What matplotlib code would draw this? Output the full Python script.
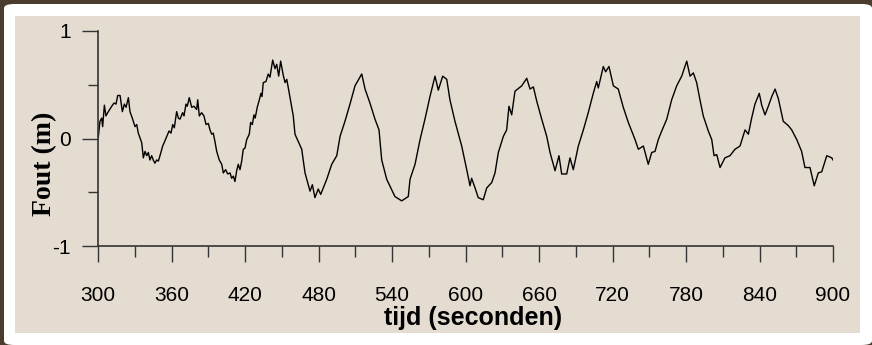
import matplotlib.pyplot as plt
from matplotlib.patches import Rectangle, FancyBboxPatch

# time (s) and error (m)
tijd = [300.2, 301.6, 303, 303.8, 305.2, 306.5, 307.9, 311.2, 313.1, 314.7,
        316.1, 318, 319.9, 321.5, 322.9, 324.8, 326.1, 328, 330.2, 331.6,
        332.9, 335.7, 337, 338.4, 339.8, 341.1, 342.4, 343.8, 345.1, 346.5,
        347.9, 349.3, 350.6, 352.8, 354.7, 358, 359.6, 361, 362.3, 364.2,
        365.6, 366.9, 369.1, 370.2, 371.8, 372.9, 374.5, 376.5, 378.4, 380.5,
        381.4, 382.7, 384.6, 386.5, 388.2, 390.1, 391.4, 392.8, 394.1, 395.5,
        396.9, 399, 401, 402.3, 404.2, 405.9, 407.8, 409.1, 410.5, 411.8,
        413.2, 414.5, 415.9, 417.3, 418.6, 420, 421.4, 423.5, 424.6, 426,
        427.3, 428.3, 430, 431.7, 433, 433.9, 434.9, 437.1, 439, 440.4,
        442.6, 444.5, 445.9, 447.5, 449.1, 451.2, 452.7, 454.1, 455.4, 456.3,
        459.4, 460.8, 466.3, 469,
        473.1, 475, 477.1, 479.8, 481.8, 486.7, 490.8, 494.9, 497.6, 501.6,
        505.7, 509.8, 515.3, 518, 522, 526.1, 529.4, 531.6, 535.7, 542.4,
        547.9, 553.3, 554.7, 558.8, 562.9, 566.9, 571, 575.1, 577.8, 581.4,
        584.7, 587.3, 591.4, 596.9, 601, 603.7, 605, 607.8, 610.4, 614.5,
        617.3, 621.4, 624.1, 626.8, 630.9, 633.6, 635.5, 637.7, 640.4, 645.9,
        650, 652.7, 655.4, 658.1, 662.2, 666.3, 669, 673.1, 676.3, 678.5,
        682.6, 685.3, 688, 692.1, 696.2, 700.2, 704.3, 707.1, 708.4, 712.5,
        714.4, 717.1, 720.7, 724.7, 728.8, 732.9, 738.4, 741.1, 745.2, 749.2,
        752, 754.7, 757.4, 760.2, 764.3, 768.3, 772.4, 776.5, 780.6, 783.3,
        786, 788.7, 791.4, 794.1, 798.2, 801, 802.9, 805.1, 807.8, 811.8,
        815.9, 820, 824.1, 828.2, 830.9, 833.6, 836.3, 839.8, 841.8, 844.5,
        847.2, 850, 852.7, 855.4, 859.4, 863.5, 866.3, 870.4, 874.4, 877.1,
        881.2, 884.7, 888, 890.8, 894.9, 899, 900]
fout = [0.01, 0.16, 0.19, 0.11, 0.31, 0.21, 0.24, 0.30, 0.33, 0.32,
        0.40, 0.40, 0.25, 0.32, 0.29, 0.38, 0.25, 0.19, 0.11, 0.13,
        0.05, -0.04, -0.18, -0.12, -0.16, -0.13, -0.20, -0.16, -0.20, -0.23,
        -0.20, -0.21, -0.16, -0.07, -0.02, 0.07, 0.05, 0.13, 0.10, 0.25,
        0.19, 0.18, 0.24, 0.21, 0.32, 0.30, 0.38, 0.29, 0.30, 0.27,
        0.36, 0.21, 0.24, 0.21, 0.13, 0.14, 0.08, 0.04, 0.05, -0.03,
        -0.12, -0.20, -0.24, -0.32, -0.29, -0.33, -0.32, -0.37, -0.35, -0.40,
        -0.30, -0.24, -0.29, -0.21, -0.10, -0.09, -0.01, 0.04, 0.15, 0.13,
        0.22, 0.19, 0.29, 0.36, 0.42, 0.39, 0.52, 0.53, 0.60, 0.57,
        0.73, 0.65, 0.69, 0.58, 0.72, 0.59, 0.52, 0.55, 0.47, 0.41,
        0.21, 0.04, -0.10, -0.32,
        -0.49, -0.43, -0.55, -0.47, -0.52, -0.38, -0.24, -0.16, 0.02, 0.16,
        0.32, 0.49, 0.60, 0.46, 0.33, 0.18, 0.08, -0.20, -0.38, -0.54,
        -0.58, -0.54, -0.38, -0.24, -0.01, 0.18, 0.39, 0.58, 0.45, 0.58,
        0.55, 0.36, 0.16, -0.07, -0.29, -0.44, -0.37, -0.46, -0.55, -0.57,
        -0.46, -0.41, -0.32, -0.13, 0.02, 0.08, 0.30, 0.22, 0.44, 0.49,
        0.56, 0.46, 0.48, 0.35, 0.18, 0.02, -0.13, -0.30, -0.16, -0.33,
        -0.33, -0.18, -0.29, -0.07, 0.08, 0.24, 0.42, 0.53, 0.47, 0.67,
        0.62, 0.67, 0.49, 0.46, 0.29, 0.15, -0.01, -0.10, -0.07, -0.24,
        -0.13, -0.12, -0.01, 0.07, 0.18, 0.36, 0.49, 0.58, 0.72, 0.58,
        0.61, 0.52, 0.36, 0.21, 0.07, -0.01, -0.16, -0.15, -0.27, -0.18,
        -0.16, -0.10, -0.07, 0.08, 0.04, 0.19, 0.32, 0.42, 0.31, 0.22,
        0.30, 0.39, 0.46, 0.37, 0.16, 0.12, 0.08, -0.01, -0.12, -0.27,
        -0.27, -0.44, -0.32, -0.31, -0.16, -0.18, -0.20]

x_major = [300, 360, 420, 480, 540, 600, 660, 720, 780, 840, 900]
x_minor = [330, 390, 450, 510, 570, 630, 690, 750, 810, 870]
y_major = [-1, 0, 1]
y_minor = [-0.5, 0.5]

W, H = 872, 345
fig = plt.figure(figsize=(W / 100, H / 100), dpi=100)
fig.patch.set_facecolor('#4b3d2e')

# white rounded card and beige inner panel
fig.patches.append(FancyBboxPatch((4 / W, 0), 1 - 4 / W, 1 - 4 / H,
                                  boxstyle='round,pad=0,rounding_size=0.012',
                                  transform=fig.transFigure, facecolor='white',
                                  edgecolor='none', zorder=-2))
fig.patches.append(Rectangle((15 / W, (H - 333) / H), (860 - 15) / W, (333 - 16) / H,
                             transform=fig.transFigure, facecolor='#e4dcd0',
                             edgecolor='none', zorder=-1))

ax = fig.add_axes([98 / W, (H - 246) / H, 735 / W, 215 / H])
ax.set_zorder(5)
ax.patch.set_alpha(0)
ax.plot(tijd, fout, color='black', lw=1.0)

ax.set_xlim(300, 900)
ax.set_ylim(-1, 1)
ax.set_xticks(x_major)
ax.set_xticks(x_minor, minor=True)
ax.set_yticks(y_major)
ax.set_yticks(y_minor, minor=True)

for s in ['top', 'right']:
    ax.spines[s].set_visible(False)
for s in ['left', 'bottom']:
    ax.spines[s].set_color('#333333')
    ax.spines[s].set_linewidth(1.2)

tick_font = {'family': 'Liberation Sans', 'size': 15}
ax.set_xticklabels([str(v) for v in x_major], fontdict=tick_font)
ax.set_yticklabels([str(v) for v in y_major], fontdict=tick_font)
ax.tick_params(which='major', direction='out', length=11.5, width=1,
               color='#333333', pad=8)
ax.tick_params(axis='x', which='major', pad=17)
ax.tick_params(axis='x', which='minor', direction='out', length=7.7, width=1, color='#333333')
ax.tick_params(axis='y', which='minor', direction='out', length=7, width=1, color='#333333')

ax.set_xlabel('tijd (seconden)', family='Liberation Sans', weight='bold',
              size=18, va='center')
ax.xaxis.set_label_coords(0.51, -0.335)
ax.set_ylabel('Fout (m)', family='Liberation Serif', weight='bold',
              size=20, va='center')
ax.yaxis.set_label_coords(-0.072, 0.38)

fig.savefig('out.png', dpi=100, facecolor=fig.get_facecolor())
